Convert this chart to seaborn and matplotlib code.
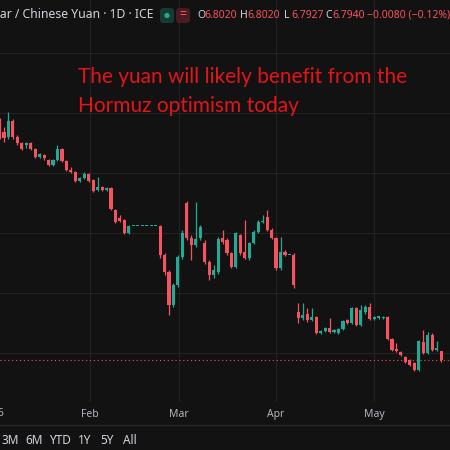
import matplotlib
matplotlib.use("Agg")
import matplotlib.pyplot as plt
from matplotlib.patches import FancyBboxPatch, Circle
import seaborn as sns
import pandas as pd

# --- data (USD/CNH daily candles) ---
open_ = [6.992, 6.984, 6.980, 6.993, 6.980, 6.975, 6.973, 6.975, 6.970, 6.963,
         6.965, 6.961, 6.957, 6.961, 6.970, 6.960, 6.9525, 6.951, 6.943, 6.946,
         6.949, 6.944, 6.936, 6.938, 6.936, 6.9375, 6.919, 6.9125, 6.911, 6.900,
         6.906, 6.906, 6.906, 6.906, 6.906, 6.906, 6.906, 6.882, 6.8675, 6.840,
         6.857, 6.880, 6.925, 6.896, 6.890, 6.896, 6.892, 6.876, 6.865, 6.8675,
         6.896, 6.894, 6.883, 6.872, 6.898, 6.884, 6.879, 6.892, 6.901, 6.909,
         6.913, 6.9025, 6.896, 6.871, 6.884, 6.882, 6.882, 6.834, 6.829, 6.8325,
         6.8275, 6.830, 6.817, 6.818, 6.821, 6.8175, 6.817, 6.820, 6.8275, 6.825,
         6.8375, 6.823, 6.834, 6.838, 6.828, 6.829, 6.8295, 6.830, 6.812, 6.803,
         6.801, 6.7967, 6.794, 6.792, 6.786, 6.809, 6.800, 6.815, 6.8025, 6.8020]
high = [6.996, 6.988, 7.001, 6.995, 6.982, 6.976, 6.976, 6.976, 6.971, 6.967,
        6.966, 6.962, 6.962, 6.973, 6.971, 6.961, 6.955, 6.952, 6.947, 6.951,
        6.950, 6.945, 6.947, 6.939, 6.938, 6.938, 6.920, 6.915, 6.912, 6.907,
        6.906, 6.906, 6.906, 6.906, 6.906, 6.906, 6.907, 6.883, 6.869, 6.858,
        6.882, 6.9025, 6.927, 6.898, 6.926, 6.907, 6.894, 6.8775, 6.873, 6.897,
        6.9025, 6.896, 6.884, 6.901, 6.899, 6.911, 6.8925, 6.9025, 6.911, 6.915,
        6.919, 6.904, 6.897, 6.897, 6.886, 6.882, 6.883, 6.842, 6.842, 6.8375,
        6.8375, 6.831, 6.819, 6.822, 6.829, 6.820, 6.821, 6.8275, 6.828, 6.838,
        6.838, 6.840, 6.840, 6.842, 6.831, 6.831, 6.831, 6.831, 6.8125, 6.808,
        6.802, 6.7975, 6.795, 6.7925, 6.811, 6.819, 6.8175, 6.817, 6.810, 6.8020]
low = [6.978, 6.976, 6.978, 6.978, 6.973, 6.969, 6.971, 6.969, 6.9625, 6.9625,
       6.961, 6.956, 6.956, 6.960, 6.959, 6.952, 6.950, 6.9425, 6.9425, 6.945,
       6.9425, 6.934, 6.935, 6.935, 6.935, 6.919, 6.908, 6.909, 6.899, 6.899,
       6.906, 6.906, 6.906, 6.906, 6.906, 6.906, 6.879, 6.865, 6.832, 6.838,
       6.855, 6.878, 6.894, 6.8775, 6.888, 6.894, 6.874, 6.861, 6.8625, 6.866,
       6.891, 6.882, 6.871, 6.871, 6.882, 6.878, 6.8775, 6.891, 6.900, 6.908,
       6.902, 6.895, 6.869, 6.869, 6.881, 6.882, 6.854, 6.825, 6.8275, 6.826,
       6.827, 6.816, 6.816, 6.8175, 6.817, 6.817, 6.816, 6.819, 6.824, 6.824,
       6.8225, 6.8225, 6.8325, 6.8275, 6.8275, 6.828, 6.828, 6.811, 6.802, 6.801,
       6.7975, 6.792, 6.789, 6.785, 6.785, 6.799, 6.799, 6.802, 6.802, 6.7927]
close = [6.983, 6.979, 6.993, 6.980, 6.975, 6.970, 6.975, 6.970, 6.963, 6.966,
         6.9625, 6.957, 6.961, 6.970, 6.960, 6.9525, 6.951, 6.943, 6.946, 6.949,
         6.943, 6.935, 6.938, 6.936, 6.9375, 6.920, 6.909, 6.910, 6.900, 6.906,
         6.906, 6.906, 6.906, 6.906, 6.906, 6.906, 6.882, 6.8675, 6.840, 6.857,
         6.880, 6.900, 6.896, 6.890, 6.895, 6.905, 6.876, 6.865, 6.869, 6.895,
         6.8925, 6.883, 6.872, 6.900, 6.883, 6.879, 6.892, 6.901, 6.909, 6.910,
         6.9025, 6.896, 6.871, 6.884, 6.882, 6.882, 6.857, 6.829, 6.832, 6.8275,
         6.830, 6.817, 6.818, 6.821, 6.8175, 6.819, 6.820, 6.827, 6.825, 6.8375,
         6.823, 6.836, 6.838, 6.828, 6.830, 6.8305, 6.830, 6.812, 6.8025, 6.802,
         6.798, 6.7925, 6.790, 6.786, 6.810, 6.800, 6.815, 6.8025, 6.804, 6.7940]

month_labels = ["Feb", "Mar", "Apr", "May"]
month_pos = [20.3, 40.2, 62.0, 84.0]
price_grid = [6.75, 6.80, 6.85, 6.90, 6.95, 7.00, 7.05]
periods = ["3M", "6M", "YTD", "1Y", "5Y", "All"]
period_x = [10, 34, 60, 85, 107, 130]

BG = "#121212"
GRID = "#232323"
UP = "#22ab94"
DOWN = "#f7525f"
W = 450.0

df = pd.DataFrame({"open": open_, "high": high, "low": low, "close": close})
df["bar"] = range(len(df))
df["up"] = df["close"] >= df["open"]
df["color"] = df["up"].map({True: UP, False: DOWN})
df["bottom"] = df[["open", "close"]].min(axis=1)
df["height"] = (df["close"] - df["open"]).abs().clip(lower=0.0007)

sns.set_theme(style="dark", rc={"axes.facecolor": BG, "figure.facecolor": BG})
plt.rcParams["font.family"] = ["Noto Sans", "DejaVu Sans"]

fig = plt.figure(figsize=(4.5, 4.5), dpi=100)
ax = fig.add_axes([0, 48 / W, 1, 402 / W])
ax.set_facecolor(BG)

# grid
for p in price_grid:
    ax.axhline(p, color=GRID, lw=0.8, zorder=0)
for m in month_pos:
    ax.axvline(m, color=GRID, lw=0.8, zorder=0)

# candles
ax.vlines(df["bar"], df["low"], df["high"], colors=df["color"], lw=0.9, zorder=2)
ax.bar(df["bar"], df["height"], bottom=df["bottom"], width=0.7,
       color=df["color"], linewidth=0, zorder=3)

# last price line
ax.axhline(close[-1], color=DOWN, lw=0.8, ls=(0, (1, 2.5)), zorder=1)

ax.set_xlim(0.11, 101.0)
ax.set_ylim(6.7592, 7.0942)
ax.set_xticks(month_pos)
ax.set_xticklabels(month_labels)
ax.set_yticks([])
ax.tick_params(axis="x", length=0, pad=5, labelsize=7.5, labelcolor="#b2b5be")
for s in ax.spines.values():
    s.set_visible(False)
ax.grid(False)

# year label cut at the left edge
fig.text(4 / W, 1 - 413 / W, "2026", ha="right", va="center", fontsize=7.5, color="#b2b5be")

# bottom toolbar
fig.add_artist(plt.Line2D([0, 1], [1 - 425 / W, 1 - 425 / W], color="#2a2a2a", lw=1))
for lab, px in zip(periods, period_x):
    fig.text(px / W, 1 - 441 / W, lab, ha="center", va="center", fontsize=8.5, color="#d1d4dc")

# header
fig.text(153 / W, 1 - 15 / W, "U.S. Dollar / Chinese Yuan · 1D · ICE", ha="right", va="center",
         fontsize=8.8, color="#d1d4dc")
fig.add_artist(FancyBboxPatch((160 / W, 1 - 23 / W), 14 / W, 15 / W,
                              boxstyle="round,pad=0,rounding_size=0.008",
                              transform=fig.transFigure, fc="#173a33", ec="none"))
fig.add_artist(Circle((167 / W, 1 - 15.5 / W), 2.6 / W, transform=fig.transFigure, fc=UP, ec="none"))
fig.add_artist(FancyBboxPatch((176 / W, 1 - 23 / W), 14 / W, 15 / W,
                              boxstyle="round,pad=0,rounding_size=0.008",
                              transform=fig.transFigure, fc="#4a1c22", ec="none"))
fig.text(183 / W, 1 - 15 / W, "=", ha="center", va="center", fontsize=9, color=DOWN)
ohlc = [("O", "6.8020", 197), ("H", "6.8020", 240), ("L", "6.7927", 284), ("C", "6.7940", 325)]
for lab, val, px in ohlc:
    fig.text(px / W, 1 - 15 / W, lab, ha="left", va="center", fontsize=7.5, color="#d1d4dc")
    fig.text((px + 7) / W, 1 - 15 / W, val, ha="left", va="center", fontsize=7.5, color=DOWN)
fig.text(367 / W, 1 - 15 / W, "\u22120.0080 (\u22120.12%)", ha="left", va="center",
         fontsize=7.5, color=DOWN)

# annotation
fig.text(78 / W, 1 - 77 / W, "The yuan will likely benefit from the", ha="left", va="center",
         fontsize=15, color="#e3151a", family=["Lato", "DejaVu Sans"])
fig.text(78 / W, 1 - 106 / W, "Hormuz optimism today", ha="left", va="center",
         fontsize=15, color="#e3151a", family=["Lato", "DejaVu Sans"])

fig.savefig("out.png", dpi=100, facecolor=BG)
